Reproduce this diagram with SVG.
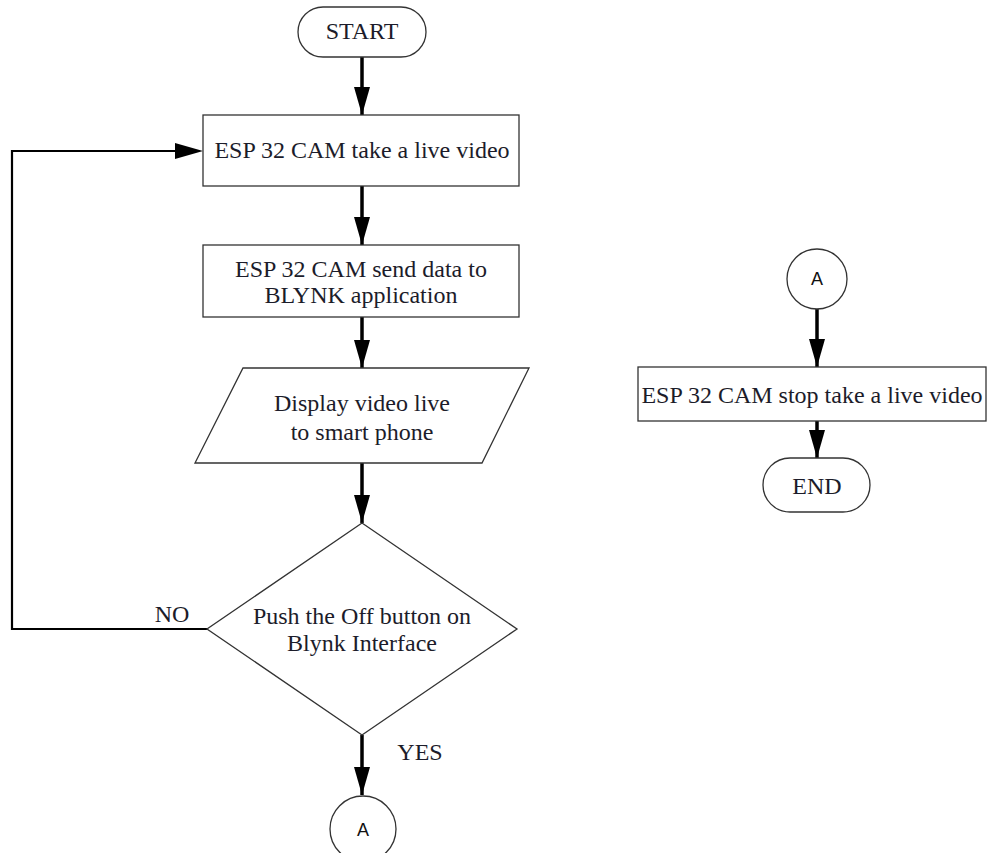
<svg xmlns="http://www.w3.org/2000/svg" width="987" height="853" viewBox="0 0 987 853">
<defs>
<marker id="ah" markerUnits="userSpaceOnUse" markerWidth="28" markerHeight="16" refX="28" refY="8" orient="auto">
<path d="M0,0 L28,8 L0,16 z" fill="#000"/>
</marker>
<style>
.shape{fill:#fff;stroke:#333;stroke-width:1.3}
.t{font-family:"Liberation Serif","Times New Roman",serif;font-size:24px;fill:#1c1c2a;text-anchor:middle}
.s{font-family:"Liberation Sans",Arial,sans-serif;font-size:18px;fill:#111;text-anchor:middle}
.c{fill:none;stroke:#000;stroke-width:3.5}
.loop{fill:none;stroke:#000;stroke-width:2.2}
</style>
</defs>
<rect width="987" height="853" fill="#fff"/>
<g id="connectors">
<line class="c" x1="362" y1="57" x2="362" y2="115" marker-end="url(#ah)"/>
<line class="c" x1="362" y1="186" x2="362" y2="245" marker-end="url(#ah)"/>
<line class="c" x1="362" y1="317" x2="362" y2="368" marker-end="url(#ah)"/>
<line class="c" x1="362" y1="463" x2="362" y2="523" marker-end="url(#ah)"/>
<line class="c" x1="362" y1="735" x2="362" y2="795" marker-end="url(#ah)"/>
<polyline class="loop" points="207,629 12,629 12,151 176,151"/>
<path d="M175,143 L203,151 L175,159 z" fill="#000"/>
<line class="c" x1="817" y1="308" x2="817" y2="367" marker-end="url(#ah)"/>
<line class="c" x1="817" y1="421" x2="817" y2="458" marker-end="url(#ah)"/>
<text class="t" x="172" y="622">NO</text>
<text class="t" x="420" y="760">YES</text>
</g>
<g id="start">
<rect class="shape" x="298" y="7" width="128" height="50" rx="25" ry="25"/>
<text class="t" x="362" y="39">START</text>
</g>
<g id="take-video">
<rect class="shape" x="203" y="115" width="316" height="71"/>
<text class="t" x="362" y="158">ESP 32 CAM take a live video</text>
</g>
<g id="send-data">
<rect class="shape" x="203" y="245" width="316" height="72"/>
<text class="t" x="361" y="277">ESP 32 CAM send data to</text>
<text class="t" x="361" y="303">BLYNK application</text>
</g>
<g id="display">
<polygon class="shape" points="243,368 529,368 482,463 195,463"/>
<text class="t" x="362" y="411">Display video live</text>
<text class="t" x="362" y="440">to smart phone</text>
</g>
<g id="decision">
<polygon class="shape" points="362,523 517,629 362,735 207,629"/>
<text class="t" x="362" y="624">Push the Off button on</text>
<text class="t" x="362" y="651">Blynk Interface</text>
</g>
<g id="connector-a1">
<circle class="shape" cx="363" cy="829" r="33"/>
<text class="s" x="363" y="836">A</text>
</g>
<g id="connector-a2">
<circle class="shape" cx="817" cy="279" r="30"/>
<text class="s" x="817" y="285">A</text>
</g>
<g id="stop-video">
<rect class="shape" x="638" y="367" width="348" height="54"/>
<text class="t" x="812" y="403">ESP 32 CAM stop take a live video</text>
</g>
<g id="end">
<rect class="shape" x="763" y="458" width="107" height="54" rx="27" ry="27"/>
<text class="t" x="817" y="494">END</text>
</g>
</svg>
